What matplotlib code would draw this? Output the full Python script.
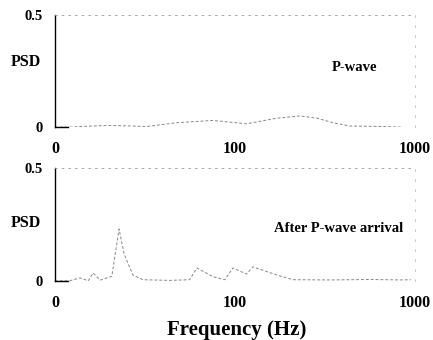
import matplotlib.pyplot as plt

plt.rcParams['font.family'] = ['Liberation Serif', 'DejaVu Serif']
plt.rcParams['font.weight'] = 'bold'

# P-wave spectrum (frequency in Hz, PSD)
pw_freq = [10, 12, 13.8, 20.2, 32.4, 47.6, 75.5, 116, 171, 230, 286, 350, 435, 664, 858]
pw_psd = [0.0, 0.0, 0.003, 0.008, 0.003, 0.02, 0.03, 0.015, 0.04, 0.05, 0.04, 0.02, 0.005, 0.003, 0.0]

# after P-wave arrival
ap_freq = [10, 12, 13.8, 15.3, 16.3, 17.8, 20.7, 22.7, 24.2, 26.0, 27.1, 30.8, 43.5, 56,
           61.5, 75.5, 88, 97.5, 116, 126, 171, 210, 337, 562, 826, 950]
ap_psd = [0.0, 0.0, 0.013, 0.0, 0.035, 0.003, 0.02, 0.23, 0.12, 0.06, 0.026, 0.005, 0.002, 0.005,
          0.057, 0.018, 0.005, 0.057, 0.03, 0.062, 0.026, 0.005, 0.004, 0.006, 0.004, 0.005]

xticks = [10, 100, 1000]
xticklabels = ['0', '100', '1000']

fig = plt.figure(figsize=(4.33, 3.4), dpi=100)
ax1 = fig.add_axes([0.127, 0.626, 0.831, 0.330])
ax2 = fig.add_axes([0.127, 0.174, 0.831, 0.332])

panels = [(ax1, pw_freq, pw_psd, 'P-wave', 0.77, 0.53, 0.818),
          (ax2, ap_freq, ap_psd, 'After P-wave arrival', 0.61, 0.46, 0.344)]
for ax, f, p, label, lx, ly, psd_y in panels:
    ax.plot(f, p, color='#888888', lw=0.7, ls=(0, (3, 2)))
    ax.set_xscale('log')
    ax.set_xlim(10, 1000)
    ax.set_ylim(0, 0.5)
    ax.set_xticks(xticks)
    ax.set_xticklabels(xticklabels)
    ax.minorticks_off()
    ax.set_yticks([0, 0.5])
    ax.set_yticklabels(['0', '0.5'])
    ax.tick_params(length=0, labelsize=10.5, pad=9)
    ax.tick_params(axis='x', labelsize=11.5, pad=10)
    ax.spines['left'].set_linewidth(1.0)
    ax.spines['bottom'].set_visible(False)
    ax.spines['top'].set_linestyle((0, (2, 6)))
    ax.spines['top'].set_color('#999999')
    ax.spines['top'].set_linewidth(0.6)
    ax.spines['right'].set_linestyle((0, (2, 10)))
    ax.spines['right'].set_color('#bbbbbb')
    ax.spines['right'].set_linewidth(0.6)
    ax.plot([10, 11.8], [0, 0], color='black', lw=1.0, clip_on=False)
    ax.text(lx, ly, label, transform=ax.transAxes, fontsize=10.5, fontweight='bold',
            va='center')
    fig.text(0.025, psd_y, 'PSD', fontsize=11.5, fontweight='bold', va='center')

fig.text(0.547, 0.029, 'Frequency (Hz)', ha='center', va='center', fontsize=15,
         fontweight='bold')

fig.savefig('out.png', dpi=100)
